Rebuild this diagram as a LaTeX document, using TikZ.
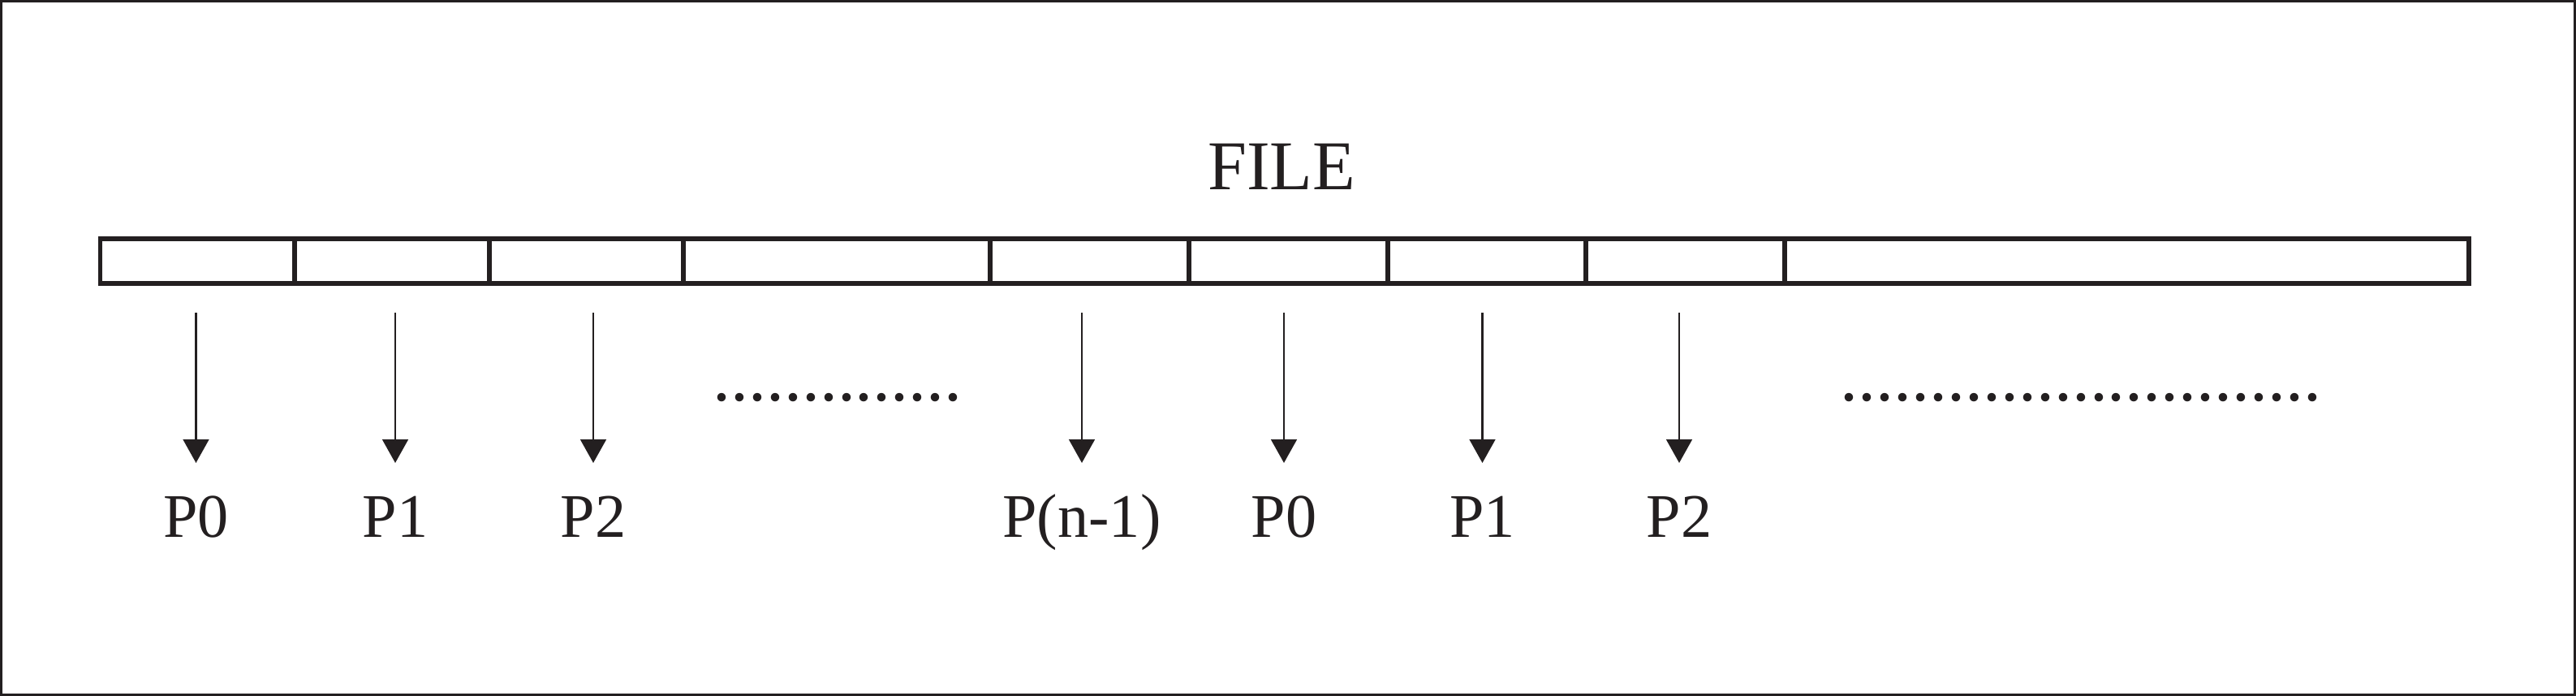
\documentclass[tikz,border=0pt]{standalone}
\usepackage{fontspec}
\setmainfont{Liberation Serif}
\usetikzlibrary{arrows.meta}
\definecolor{ink}{RGB}{35,31,32}

\begin{document}
\begin{tikzpicture}[
  cell/.style={shape=rectangle, minimum height=0.552cm, inner sep=0pt, outer sep=0pt, line width=1.6pt, draw=ink},
  lbl/.style={anchor=base, inner sep=0pt, text=ink, font=\fontsize{21.7}{26}\selectfont},
  arr/.style={-{Triangle[width=9pt,length=8.2pt]}, line width=0.65pt, draw=ink}
]
\useasboundingbox (0,0) rectangle (31.74,8.57);
\draw[ink, line width=0.8pt] (0.014,0.014) rectangle (31.726,8.556);

\path (15.79,6.237) node (F) [anchor=base, inner sep=0pt, text=ink, font=\fontsize{24.5}{29}\selectfont] {FILE};

% the file, split into blocks
\path (2.4325,5.356) node (X1) [cell, minimum width=2.395cm] {};
\path (4.83,5.356) node (X2) [cell, minimum width=2.40cm] {};
\path (7.225,5.356) node (X3) [cell, minimum width=2.39cm] {};
\path (10.31,5.356) node (X4) [cell, minimum width=3.78cm] {};
\path (13.425,5.356) node (X5) [cell, minimum width=2.45cm] {};
\path (15.875,5.356) node (X6) [cell, minimum width=2.45cm] {};
\path (18.32,5.356) node (X7) [cell, minimum width=2.44cm] {};
\path (20.765,5.356) node (X8) [cell, minimum width=2.45cm] {};
\path (26.205,5.356) node (X9) [cell, minimum width=8.43cm] {};

% processes
\path (2.415,1.953) node (P0) [lbl] {P0};
\path (4.87,1.953) node (P1) [lbl] {P1};
\path (7.31,1.953) node (P2) [lbl] {P2};
\path (13.33,1.953) node (Pn) [lbl] {P(n-1)};
\path (15.82,1.953) node (Q0) [lbl] {P0};
\path (18.265,1.953) node (Q1) [lbl] {P1};
\path (20.69,1.953) node (Q2) [lbl] {P2};

\path (10.32,3.637) node (D1) [anchor=base, inner sep=0pt, text=ink, font=\fontsize{25}{30}\selectfont] {..............};
\path (25.64,3.637) node (D2) [anchor=base, inner sep=0pt, text=ink, font=\fontsize{25}{30}\selectfont] {...........................};

\coordinate (top) at (0,4.72);
\coordinate (tip) at (0,2.87);
\foreach \p in {P0,P1,P2,Pn,Q0,Q1,Q2}
  \draw[arr] (\p |- top) -- (\p |- tip);

\end{tikzpicture}
\end{document}
